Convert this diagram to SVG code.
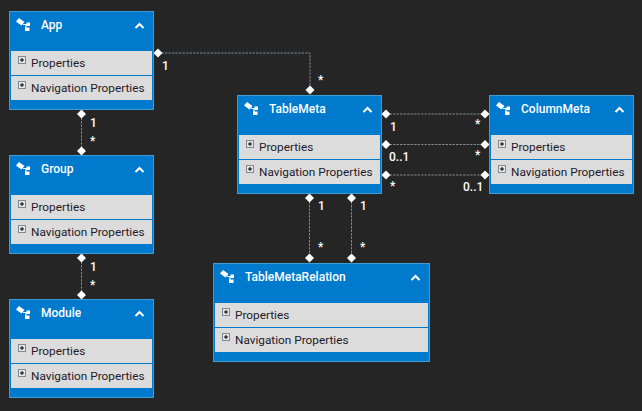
<svg xmlns="http://www.w3.org/2000/svg" width="642" height="411" viewBox="0 0 642 411">
<style>
text{font-family:Roboto,"Liberation Sans",sans-serif;font-size:12px}
.box{fill:#007acc;stroke:#3f9bd6;stroke-width:1}
.row{fill:#dcdcdc}
.ttl{fill:#fff;font-weight:500}
.lbl{fill:#241a2a;font-size:11.8px}
.card{fill:#fff;font-weight:500;font-size:12px}
.chev{fill:none;stroke:#fff;stroke-width:2}
.ex{fill:#e8e8e8;stroke:#7c8a96;stroke-width:1}
.pm{stroke:#000;stroke-width:1;fill:none}
.ic{fill:#fff}
.icl{fill:none;stroke:#fff;stroke-width:1.2}
.conn{fill:none;stroke:#7f868d;stroke-width:1;stroke-dasharray:2.500 1}
.dia{fill:#fff}
</style>
<defs>
<g id="icon"><path class="ic" d="M16 21.500l3-3.500 5.500 4-3 3.500z"/><path class="icl" d="M23 24.500h5M26 24v6"/><rect class="ic" x="26.500" y="22.500" width="3.500" height="3.500"/><rect class="ic" x="25" y="27.500" width="4.500" height="3.500"/></g>
<g id="exp"><rect class="ex" x="0.500" y="0.500" width="7" height="7"/><path class="pm" d="M2 4h4M4 2v4"/></g>
<path id="d" class="dia" d="M0-4.500L4.500 0 0 4.500-4.500 0z"/>
</defs>
<rect width="642" height="411" fill="#252525"/>
<g id="connectors">
<path class="conn" d="M158 53H310V90"/>
<path class="conn" d="M81.500 114V151"/>
<path class="conn" d="M81.500 258V295"/>
<path class="conn" d="M386 114H485"/>
<path class="conn" d="M386 144.500H485"/>
<path class="conn" d="M386 175H485"/>
<path class="conn" d="M309.500 198V258"/>
<path class="conn" d="M351.500 198V258"/>
<use href="#d" x="158" y="53"/><use href="#d" x="310" y="90"/>
<use href="#d" x="81.500" y="114"/><use href="#d" x="81.500" y="151"/>
<use href="#d" x="81.500" y="258"/><use href="#d" x="81.500" y="295"/>
<use href="#d" x="386" y="114"/><use href="#d" x="485" y="114"/>
<use href="#d" x="386" y="144.500"/><use href="#d" x="485" y="144.500"/>
<use href="#d" x="386" y="175"/><use href="#d" x="485" y="175"/>
<use href="#d" x="309.500" y="198"/><use href="#d" x="309.500" y="258"/>
<use href="#d" x="351.500" y="198"/><use href="#d" x="351.500" y="258"/>
<text class="card" x="162" y="70">1</text><text class="card" x="318" y="84">*</text>
<text class="card" x="90" y="127">1</text><text class="card" x="90" y="145">*</text>
<text class="card" x="90" y="271">1</text><text class="card" x="90" y="289">*</text>
<text class="card" x="390" y="131">1</text><text class="card" x="475" y="128">*</text>
<text class="card" x="389" y="161">0..1</text><text class="card" x="475" y="159">*</text>
<text class="card" x="390" y="190">*</text><text class="card" x="463" y="191">0..1</text>
<text class="card" x="318" y="210">1</text><text class="card" x="360" y="210">1</text>
<text class="card" x="318" y="251">*</text><text class="card" x="360" y="251">*</text>
</g>
<g id="App">
<rect class="box" x="9.500" y="11.500" width="144" height="98"/>
<rect class="row" x="11" y="51" width="141" height="24"/><rect class="row" x="11" y="76" width="141" height="24"/>
<use href="#icon"/>
<text class="ttl" x="41" y="29">App</text>
<path class="chev" d="M135.500 28l4-4 4 4"/>
<use href="#exp" x="18" y="56"/><text class="lbl" x="31" y="67">Properties</text>
<use href="#exp" x="18" y="81"/><text class="lbl" x="31" y="92">Navigation Properties</text>
</g>
<g id="Group" transform="translate(0 144)">
<rect class="box" x="9.500" y="11.500" width="144" height="98"/>
<rect class="row" x="11" y="51" width="141" height="24"/><rect class="row" x="11" y="76" width="141" height="24"/>
<use href="#icon"/>
<text class="ttl" x="41" y="29">Group</text>
<path class="chev" d="M135.500 28l4-4 4 4"/>
<use href="#exp" x="18" y="56"/><text class="lbl" x="31" y="67">Properties</text>
<use href="#exp" x="18" y="81"/><text class="lbl" x="31" y="92">Navigation Properties</text>
</g>
<g id="Module" transform="translate(0 288)">
<rect class="box" x="9.500" y="11.500" width="144" height="98"/>
<rect class="row" x="11" y="51" width="141" height="24"/><rect class="row" x="11" y="76" width="141" height="24"/>
<use href="#icon"/>
<text class="ttl" x="41" y="29">Module</text>
<path class="chev" d="M135.500 28l4-4 4 4"/>
<use href="#exp" x="18" y="56"/><text class="lbl" x="31" y="67">Properties</text>
<use href="#exp" x="18" y="81"/><text class="lbl" x="31" y="92">Navigation Properties</text>
</g>
<g id="TableMeta" transform="translate(228 84)">
<rect class="box" x="9.500" y="11.500" width="144" height="98"/>
<rect class="row" x="11" y="51" width="141" height="24"/><rect class="row" x="11" y="76" width="141" height="24"/>
<use href="#icon"/>
<text class="ttl" x="41" y="29">TableMeta</text>
<path class="chev" d="M135.500 28l4-4 4 4"/>
<use href="#exp" x="18" y="56"/><text class="lbl" x="31" y="67">Properties</text>
<use href="#exp" x="18" y="81"/><text class="lbl" x="31" y="92">Navigation Properties</text>
</g>
<g id="ColumnMeta" transform="translate(480 84)">
<rect class="box" x="9.500" y="11.500" width="144" height="98"/>
<rect class="row" x="11" y="51" width="141" height="24"/><rect class="row" x="11" y="76" width="141" height="24"/>
<use href="#icon"/>
<text class="ttl" x="41" y="29">ColumnMeta</text>
<path class="chev" d="M135.500 28l4-4 4 4"/>
<use href="#exp" x="18" y="56"/><text class="lbl" x="31" y="67">Properties</text>
<use href="#exp" x="18" y="81"/><text class="lbl" x="31" y="92">Navigation Properties</text>
</g>
<g id="TableMetaRelation" transform="translate(204 252)">
<rect class="box" x="9.500" y="11.500" width="216" height="98"/>
<rect class="row" x="11" y="51" width="213" height="24"/><rect class="row" x="11" y="76" width="213" height="24"/>
<use href="#icon"/>
<text class="ttl" x="41" y="29">TableMetaRelation</text>
<path class="chev" d="M207.500 28l4-4 4 4"/>
<use href="#exp" x="18" y="56"/><text class="lbl" x="31" y="67">Properties</text>
<use href="#exp" x="18" y="81"/><text class="lbl" x="31" y="92">Navigation Properties</text>
</g>
</svg>
